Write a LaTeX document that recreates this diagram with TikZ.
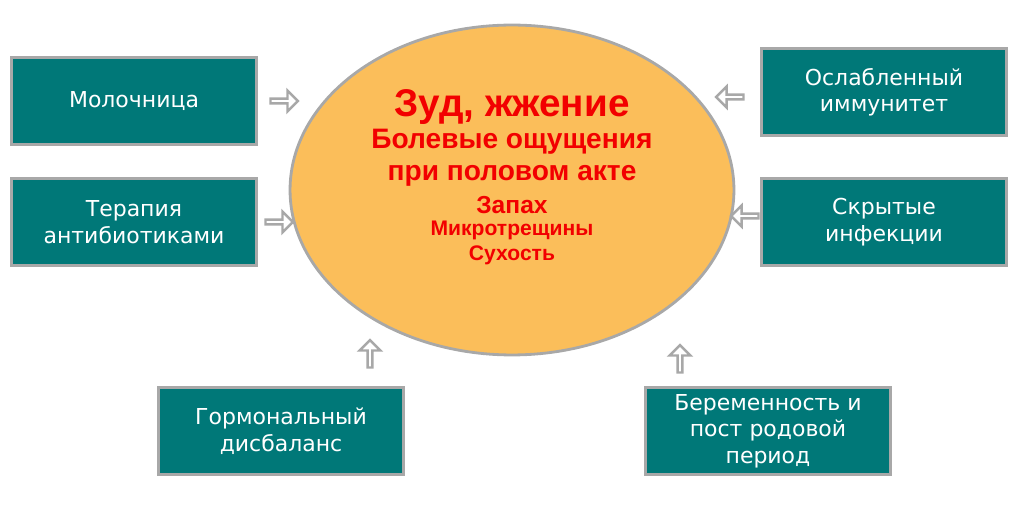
\documentclass[tikz,border=0pt]{standalone}
\usepackage{fontspec}
\setmainfont{DejaVu Sans}
\newfontfamily\redfont{Liberation Sans}
\usetikzlibrary{shapes.arrows, shapes.geometric}
\definecolor{teal1}{HTML}{007878}
\definecolor{orange1}{HTML}{FBBE5A}
\definecolor{gray1}{HTML}{A8A8A8}
\definecolor{red1}{HTML}{F20000}
\tikzset{
  causebox/.style={draw=gray1, line width=1.6pt, fill=teal1, text=white,
    minimum width=4.9cm, minimum height=1.75cm, align=center, font=\fontsize{12.5}{15}\selectfont},
  blockarrow/.style={single arrow, draw=gray1, line width=1.4pt, fill=white,
    minimum height=0.55cm, minimum width=0.42cm, single arrow head extend=0.08cm, inner sep=0pt},
  symptom/.style={text=red1, font=\redfont\bfseries}
}
\begin{document}
\begin{tikzpicture}[x=0.02cm,y=-0.02cm]
    \useasboundingbox (0,0) rectangle (1012,530);
    \node[ellipse, draw=gray1, line width=1.6pt, fill=orange1, minimum width=8.88cm, minimum height=6.6cm] (ell) at (512,190) {};
    % symptoms
    \node[symptom, font=\redfont\bfseries\fontsize{22}{26}\selectfont] (itch) at (512,107) {Зуд, жжение};
    \node[symptom, font=\redfont\bfseries\fontsize{16}{19}\selectfont, align=center] (pain) at (512,158) {Болевые ощущения\\[-1pt]при половом акте};
    \node[symptom, font=\redfont\bfseries\fontsize{14}{16}\selectfont] (smell) at (512,205) {Запах};
    \node[symptom, font=\redfont\bfseries\fontsize{12}{14}\selectfont, align=center] (crack) at (512,243) {Микротрещины\\Сухость};
    % causes
    \node[causebox] (thrush) at (134,101) {Молочница};
    \node[causebox] (therapy) at (134,222) {Терапия\\антибиотиками};
    \node[causebox] (immune) at (884,92) {Ослабленный\\иммунитет};
    \node[causebox] (hidden) at (884,222) {Скрытые\\инфекции};
    \node[causebox] (hormone) at (281,431) {Гормональный\\дисбаланс};
    \node[causebox] (pregnant) at (768,431) {Беременность и\\пост родовой\\период};
    % arrows
    \node[blockarrow] (a1) at (283,101) {};
    \node[blockarrow] (a2) at (278,222) {};
    \node[blockarrow, shape border rotate=180] (a3) at (731,97) {};
    \node[blockarrow, shape border rotate=180] (a4) at (746,216) {};
    \node[blockarrow, shape border rotate=90] (a5) at (370,355) {};
    \node[blockarrow, shape border rotate=90] (a6) at (680,360) {};
\end{tikzpicture}
\end{document}
